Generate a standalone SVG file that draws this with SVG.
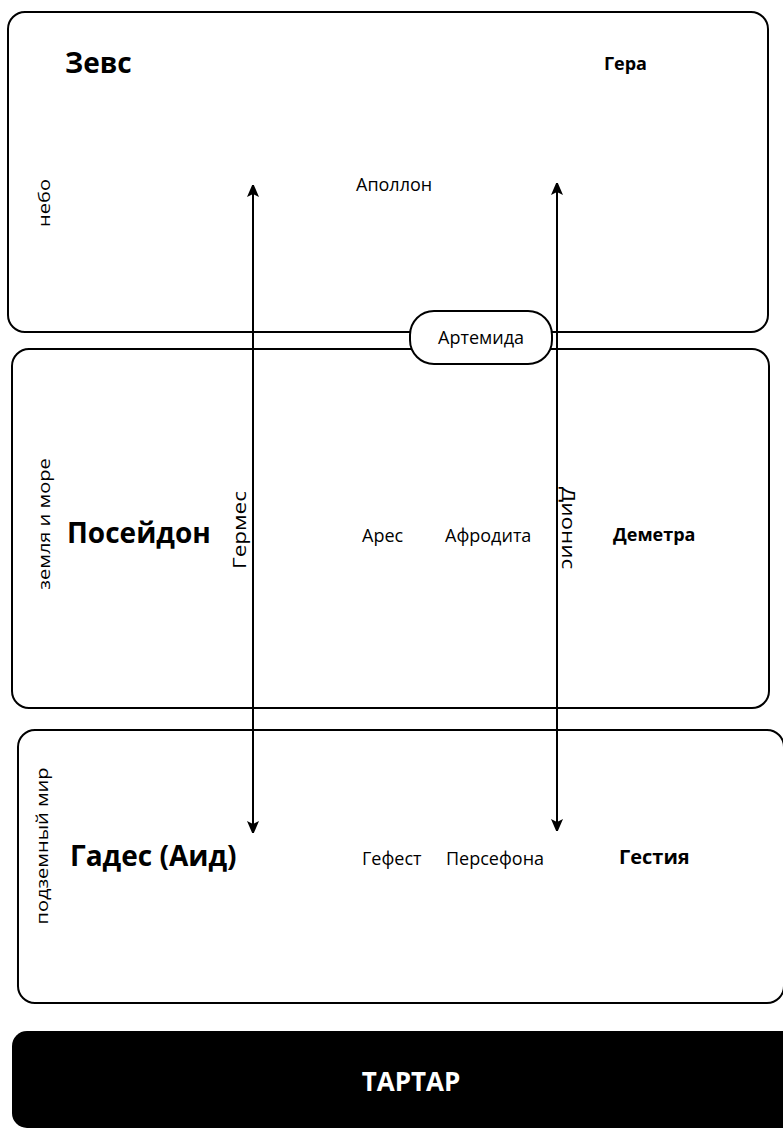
<svg xmlns="http://www.w3.org/2000/svg" width="783" height="1130" viewBox="0 0 783 1130">
  <defs>
    <style>
      .zone { fill: #ffffff; stroke: #000000; stroke-width: 2; }
      .t { font-family: "Open Sans", "Liberation Sans", sans-serif; fill: #000; }
      .r { font-size: 18px; }
      .b { font-weight: bold; font-size: 18px; }
      .big { font-weight: bold; font-size: 28px; }
      .lbl { font-size: 16px; text-anchor: middle; }
      .conn { stroke: #000; stroke-width: 2; fill: none; }
    </style>
    <marker id="ah" viewBox="0 0 12 16" refX="12" refY="6" markerWidth="12" markerHeight="16" markerUnits="userSpaceOnUse" orient="auto">
      <path d="M0,0 L14,6 L0,12 L3,6 Z" fill="#000"/>
    </marker>
  </defs>
  <rect width="783" height="1130" fill="#ffffff"/>

  <g id="sky">
    <rect class="zone" x="8" y="12" width="760" height="320" rx="17"/>
    <text class="t lbl" transform="translate(50,203) rotate(-90) scale(1.25,1)">небо</text>
  </g>
  <g id="earth">
    <rect class="zone" x="12" y="349" width="757" height="359" rx="17"/>
    <text class="t lbl" transform="translate(50,524) rotate(-90) scale(1.25,1)">земля и море</text>
  </g>
  <g id="underworld">
    <rect class="zone" x="18" y="730" width="766" height="273" rx="17"/>
    <text class="t lbl" transform="translate(48,846) rotate(-90) scale(1.25,1)">подземный мир</text>
  </g>
  <g id="tartarus">
    <rect x="12" y="1031" width="790" height="97" rx="15" fill="#000"/>
    <text class="t" x="411" y="1091" text-anchor="middle" font-size="26" font-weight="bold" style="fill:#fff">ТАРТАР</text>
  </g>

  <g id="connectors">
    <line class="conn" x1="253" y1="800" x2="253" y2="185" marker-end="url(#ah)"/>
    <line class="conn" x1="253" y1="200" x2="253" y2="833" marker-end="url(#ah)"/>
    <line class="conn" x1="557" y1="800" x2="557" y2="183" marker-end="url(#ah)"/>
    <line class="conn" x1="557" y1="200" x2="557" y2="831" marker-end="url(#ah)"/>
  </g>

  <g id="artemis">
    <rect x="410" y="311" width="142" height="53" rx="24" fill="#fff" stroke="#000" stroke-width="2"/>
    <text class="t r" x="481" y="344" text-anchor="middle">Артемида</text>
  </g>

  <g id="zeus"><text class="t big" x="65" y="73">Зевс</text></g>
  <g id="hera"><text class="t b" x="604" y="70">Гера</text></g>
  <g id="apollo"><text class="t r" x="356" y="191">Аполлон</text></g>
  <g id="hermes"><text class="t r" text-anchor="middle" transform="translate(246,530) rotate(-90) scale(1.25,1)">Гермес</text></g>
  <g id="dionysus"><text class="t r" text-anchor="middle" transform="translate(562,528) rotate(90) scale(1.25,1)">Дионис</text></g>
  <g id="poseidon"><text class="t big" x="67" y="543">Посейдон</text></g>
  <g id="ares"><text class="t r" x="362" y="542">Арес</text></g>
  <g id="aphrodite"><text class="t r" x="445" y="542">Афродита</text></g>
  <g id="demeter"><text class="t b" x="613" y="541">Деметра</text></g>
  <g id="hades"><text class="t big" x="70" y="866">Гадес (Аид)</text></g>
  <g id="hephaestus"><text class="t r" x="362" y="865">Гефест</text></g>
  <g id="persephone"><text class="t r" x="446" y="865">Персефона</text></g>
  <g id="hestia"><text class="t b" x="619" y="864" style="font-size:20px">Гестия</text></g>
</svg>
